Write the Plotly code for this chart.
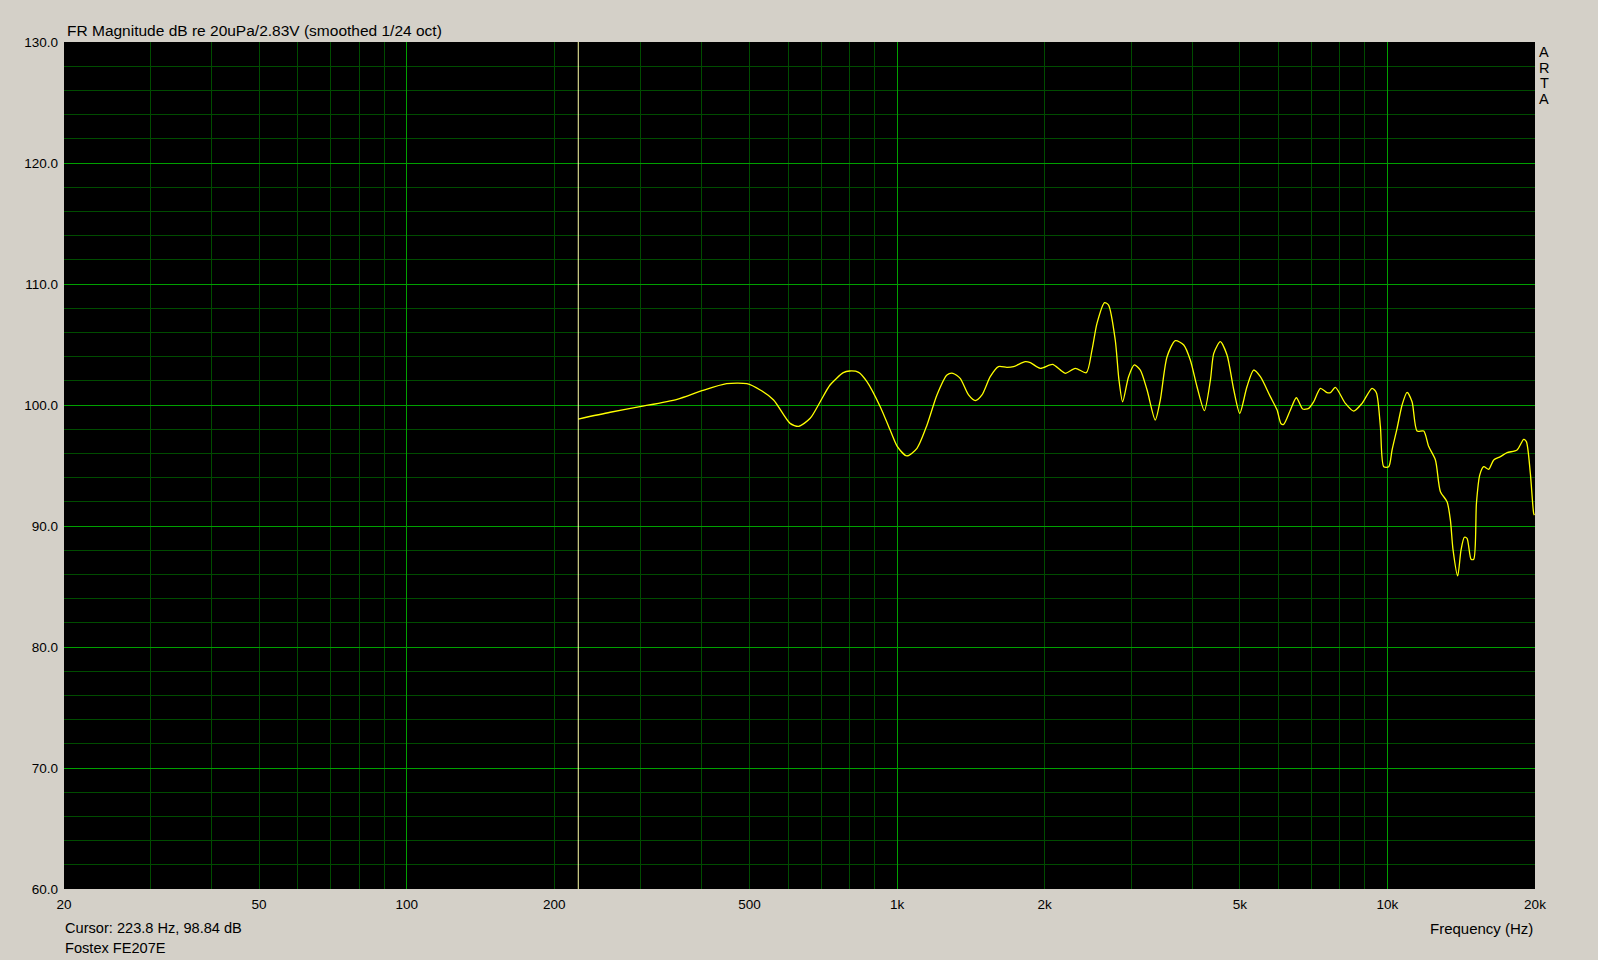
import math
import plotly.graph_objects as go

# ---- data ----
freq_hz = [223.8, 260, 299, 356, 400, 449, 494, 526, 560, 605, 630, 665, 697, 730, 777, 800, 835, 868,
           924, 968, 1000, 1047, 1098, 1151, 1206, 1264, 1300, 1345, 1399, 1444, 1490, 1549, 1610,
           1675, 1728, 1826, 1870, 1959, 2075, 2152, 2204, 2309, 2432, 2498, 2557, 2650, 2700, 2786,
           2835, 2884, 2966, 3047, 3134, 3235, 3362, 3442, 3553, 3694, 3843, 3963, 4090, 4234, 4356,
           4425, 4564, 4709, 4861, 4999, 5171, 5336, 5507, 5771, 5955, 6070, 6145, 6341, 6522, 6719,
           6910, 7075, 7301, 7532, 7652, 7833, 8207, 8533, 8879, 9305, 9495, 9677, 9830, 10063, 10222,
           10465, 10714, 10967, 11228, 11494, 11860, 12142, 12530, 12826, 13233, 13441, 13611, 13912,
           14132, 14354, 14536, 14813, 15000, 15191, 15427, 15720, 16094, 16476, 17001, 17543, 18383,
           18967, 19207, 19568, 19876, 19950]
mag_db = [98.84, 99.4, 99.86, 100.47, 101.18, 101.76, 101.76, 101.24, 100.41, 98.48, 98.24, 98.9, 100.27,
          101.65, 102.67, 102.81, 102.70, 101.93, 99.86, 97.93, 96.61, 95.79, 96.42, 98.35, 100.83,
          102.48, 102.62, 102.2, 100.83, 100.36, 100.83, 102.34, 103.17, 103.11, 103.17, 103.58, 103.5,
          103.03, 103.35, 102.9, 102.62, 103.03, 102.67, 104.55, 106.75, 108.46, 108.26, 105.37, 102.07,
          100.27, 102.34, 103.31, 102.89, 101.24, 98.76, 100.41, 103.99, 105.32, 104.96, 103.72, 101.51,
          99.53, 102.07, 104.27, 105.23, 104.13, 101.24, 99.31, 101.51, 102.89, 102.34, 100.69, 99.6,
          98.45, 98.4, 99.59, 100.6, 99.67, 99.72, 100.27, 101.38, 101.02, 101.02, 101.46, 100.14, 99.5,
          100.14, 101.38, 101.02, 98.21, 94.9, 94.9, 96.28, 98.07, 100.0, 101.05, 100.27, 97.85, 97.85,
          96.56, 95.46, 92.84, 92.01, 90.5, 88.02, 85.87, 88.02, 89.07, 88.98, 87.25, 87.25, 91.87,
          94.21, 94.9, 94.68, 95.46, 95.73, 96.06, 96.28, 97.16, 96.97, 94.35, 91.05, 90.9]

x_tick_vals = [20, 50, 100, 200, 500, 1000, 2000, 5000, 10000, 20000]
x_tick_text = ["20", "50", "100", "200", "500", "1k", "2k", "5k", "10k", "20k"]
x_minor_grid = [30, 40, 50, 60, 70, 80, 90, 200, 300, 400, 500, 600, 700, 800, 900,
                2000, 3000, 4000, 5000, 6000, 7000, 8000, 9000]
x_major_grid = [100, 1000, 10000]
y_range = [60, 130]

cursor_freq = 223.8
cursor_db = 98.84
title_text = "FR Magnitude dB re 20uPa/2.83V (smoothed 1/24 oct)"
device_name = "Fostex FE207E"
brand_letters = ["A", "R", "T", "A"]

BG = "#D4D0C8"
MINOR = "#004C00"
MAJOR = "#00A000"
FONT = "Liberation Sans, Arial, sans-serif"

xr = [math.log10(20), math.log10(20000)]

fig = go.Figure()
fig.add_trace(go.Scatter(x=freq_hz, y=mag_db, mode="lines",
                         line=dict(color="#FFFF00", width=1.3, shape="spline", smoothing=0.7),
                         showlegend=False, hoverinfo="skip"))
fig.add_trace(go.Scatter(x=[], y=[], xaxis="x2", showlegend=False, hoverinfo="skip"))

fig.add_shape(type="line", xref="x", yref="paper", x0=cursor_freq, x1=cursor_freq, y0=0, y1=1,
              line=dict(color="#FFFFA8", width=1))

L, R, T, B = 64, 63, 42, 71
W, H = 1598 - L - R, 960 - T - B

def px(xp):
    return (xp - L) / W

def py(yp):
    return (960 - B - yp) / H

annotations = [
    dict(text=title_text, x=px(65), y=py(30), xanchor="left", yanchor="middle",
         font=dict(size=15.5, family=FONT, color="black")),
    dict(text=f"Cursor: {cursor_freq} Hz, {cursor_db} dB", x=px(63), y=py(927.5), xanchor="left", yanchor="middle",
         font=dict(size=14.6, family=FONT, color="black")),
    dict(text=device_name, x=px(63), y=py(948), xanchor="left", yanchor="middle",
         font=dict(size=14.6, family=FONT, color="black")),
    dict(text="Frequency (Hz)", x=px(1535), y=py(928.5), xanchor="right", yanchor="middle"),
]
for i, ch in enumerate(brand_letters):
    annotations.append(dict(text=ch, x=px(1544), y=py(52 + i * 15.6), xanchor="center", yanchor="middle",
                            font=dict(size=14.5, family=FONT, color="black")))
for a in annotations:
    a.update(xref="paper", yref="paper", showarrow=False)
    a.setdefault("font", dict(size=15, family=FONT, color="black"))

fig.update_layout(
    width=1598, height=960,
    margin=dict(l=L, r=R, t=T, b=B, pad=0),
    paper_bgcolor=BG, plot_bgcolor="black",
    font=dict(family=FONT, size=13.5, color="black"),
    hovermode=False,
    xaxis=dict(type="log", range=xr, tickvals=x_tick_vals, ticktext=x_tick_text,
               showgrid=False, zeroline=False, showline=False, ticks="", ticklabelstandoff=5,
               showspikes=False,
               minor=dict(tickvals=x_minor_grid, showgrid=True, gridcolor=MINOR, gridwidth=1, ticks="")),
    xaxis2=dict(type="log", range=xr, overlaying="x", tickvals=x_major_grid, showticklabels=False,
                showgrid=True, gridcolor=MAJOR, gridwidth=1, zeroline=False, ticks="", showline=False),
    yaxis=dict(range=y_range, dtick=10, tick0=60, tickformat=".1f", showgrid=True, gridcolor=MAJOR,
               gridwidth=1, zeroline=False, showline=False, ticks="", ticklabelstandoff=5,
               minor=dict(dtick=2, showgrid=True, gridcolor=MINOR, gridwidth=1, ticks="")),
    annotations=annotations,
)

fig.write_html("out.html", config={"displayModeBar": False, "staticPlot": True},
               post_script="document.body.style.margin='0';document.body.style.background='#D4D0C8';")
